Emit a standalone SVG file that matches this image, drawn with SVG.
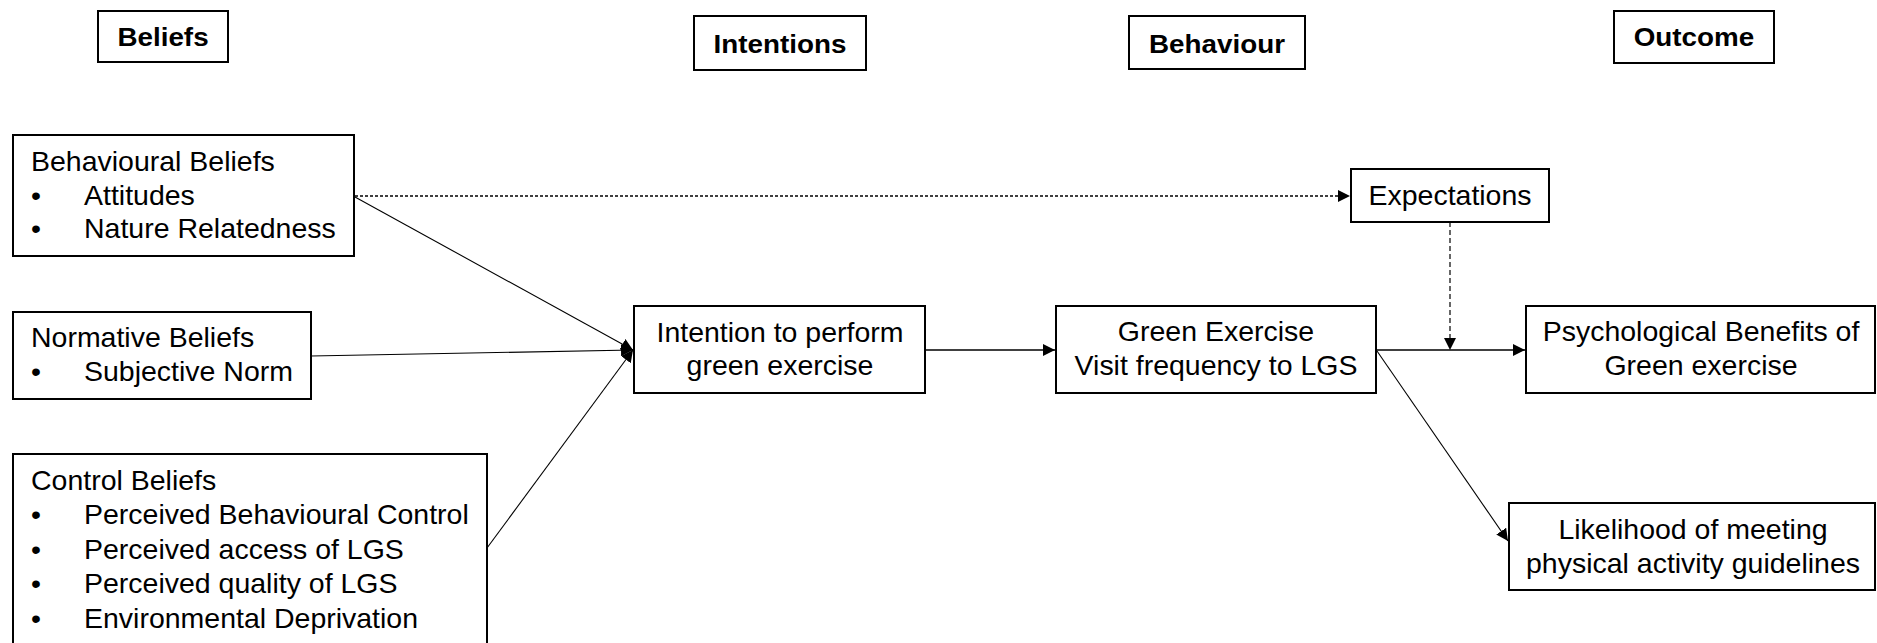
<svg xmlns="http://www.w3.org/2000/svg" width="1877" height="643" viewBox="0 0 1877 643">
  <style>
    .box { fill: #ffffff; stroke: #000000; stroke-width: 2; }
    .t { font-family: "Liberation Sans", Arial, sans-serif; font-size: 27px; fill: #000000; }
    .h { font-family: "Liberation Sans", Arial, sans-serif; font-size: 26px; font-weight: bold; fill: #000000; }
    .c { text-anchor: middle; }
    .line { fill: none; stroke: #000000; stroke-width: 1.5; }
    .thin { fill: none; stroke: #000000; stroke-width: 1.1; }
    .dot { fill: none; stroke: #000000; stroke-width: 1.3; stroke-dasharray: 3 2; }
    .dash { fill: none; stroke: #000000; stroke-width: 1.2; stroke-dasharray: 5 3; }
  </style>
  <defs>
    <marker id="arrow" viewBox="0 0 12 12" refX="12" refY="6" markerWidth="12" markerHeight="12" markerUnits="userSpaceOnUse" orient="auto">
      <path d="M0,0 L12,6 L0,12 z" fill="#000000"/>
    </marker>
  </defs>

  <rect width="1877" height="643" fill="#ffffff"/>

  <!-- column headings -->
  <g id="head-beliefs">
    <rect class="box" x="98" y="11" width="130" height="51"/>
    <text class="h c" transform="translate(163,46) scale(1.07,1)">Beliefs</text>
  </g>
  <g id="head-intentions">
    <rect class="box" x="694" y="16" width="172" height="54"/>
    <text class="h c" transform="translate(780,53) scale(1.07,1)">Intentions</text>
  </g>
  <g id="head-behaviour">
    <rect class="box" x="1129" y="16" width="176" height="53"/>
    <text class="h c" transform="translate(1217,53) scale(1.07,1)">Behaviour</text>
  </g>
  <g id="head-outcome">
    <rect class="box" x="1614" y="11" width="160" height="52"/>
    <text class="h c" transform="translate(1694,46) scale(1.07,1)">Outcome</text>
  </g>

  <!-- connectors -->
  <g id="connectors">
    <path class="thin" d="M355,197 L633,350" marker-end="url(#arrow)"/>
    <path class="thin" d="M311,356 L633,350" marker-end="url(#arrow)"/>
    <path class="thin" d="M487,548 L633,350" marker-end="url(#arrow)"/>
    <path class="dot" d="M355,196 L1350,196" marker-end="url(#arrow)"/>
    <path class="line" d="M925,350 L1055,350" marker-end="url(#arrow)"/>
    <path class="line" d="M1376,350 L1525,350" marker-end="url(#arrow)"/>
    <path class="dash" d="M1450,222 L1450,350" marker-end="url(#arrow)"/>
    <path class="thin" d="M1377,351 L1508,541" marker-end="url(#arrow)"/>
  </g>

  <!-- belief boxes -->
  <g id="behavioural-beliefs">
    <rect class="box" x="13" y="135" width="341" height="121"/>
    <text class="t" transform="translate(31,171) scale(1.055,1)">Behavioural Beliefs</text>
    <text class="t" transform="translate(31,205) scale(1.055,1)">•</text>
    <text class="t" transform="translate(84,205) scale(1.055,1)">Attitudes</text>
    <text class="t" transform="translate(31,238) scale(1.055,1)">•</text>
    <text class="t" transform="translate(84,238) scale(1.055,1)">Nature Relatedness</text>
  </g>
  <g id="normative-beliefs">
    <rect class="box" x="13" y="312" width="298" height="87"/>
    <text class="t" transform="translate(31,347) scale(1.055,1)">Normative Beliefs</text>
    <text class="t" transform="translate(31,381) scale(1.055,1)">•</text>
    <text class="t" transform="translate(84,381) scale(1.055,1)">Subjective Norm</text>
  </g>
  <g id="control-beliefs">
    <rect class="box" x="13" y="454" width="474" height="210"/>
    <text class="t" transform="translate(31,490) scale(1.055,1)">Control Beliefs</text>
    <text class="t" transform="translate(31,524) scale(1.055,1)">•</text>
    <text class="t" transform="translate(84,524) scale(1.055,1)">Perceived Behavioural Control</text>
    <text class="t" transform="translate(31,559) scale(1.055,1)">•</text>
    <text class="t" transform="translate(84,559) scale(1.055,1)">Perceived access of LGS</text>
    <text class="t" transform="translate(31,593) scale(1.055,1)">•</text>
    <text class="t" transform="translate(84,593) scale(1.055,1)">Perceived quality of LGS</text>
    <text class="t" transform="translate(31,628) scale(1.055,1)">•</text>
    <text class="t" transform="translate(84,628) scale(1.055,1)">Environmental Deprivation</text>
  </g>

  <!-- intention, behaviour and outcomes -->
  <g id="intention">
    <rect class="box" x="634" y="306" width="291" height="87"/>
    <text class="t c" transform="translate(780,342) scale(1.055,1)">Intention to perform</text>
    <text class="t c" transform="translate(780,375) scale(1.055,1)">green exercise</text>
  </g>
  <g id="green-exercise">
    <rect class="box" x="1056" y="306" width="320" height="87"/>
    <text class="t c" transform="translate(1216,341) scale(1.055,1)">Green Exercise</text>
    <text class="t c" transform="translate(1216,375) scale(1.055,1)">Visit frequency to LGS</text>
  </g>
  <g id="expectations">
    <rect class="box" x="1351" y="169" width="198" height="53"/>
    <text class="t c" transform="translate(1450,205) scale(1.055,1)">Expectations</text>
  </g>
  <g id="psychological-benefits">
    <rect class="box" x="1526" y="306" width="349" height="87"/>
    <text class="t c" transform="translate(1701,341) scale(1.055,1)">Psychological Benefits of</text>
    <text class="t c" transform="translate(1701,375) scale(1.055,1)">Green exercise</text>
  </g>
  <g id="activity-guidelines">
    <rect class="box" x="1509" y="503" width="366" height="87"/>
    <text class="t c" transform="translate(1693,539) scale(1.055,1)">Likelihood of meeting</text>
    <text class="t c" transform="translate(1693,573) scale(1.055,1)">physical activity guidelines</text>
  </g>
</svg>
